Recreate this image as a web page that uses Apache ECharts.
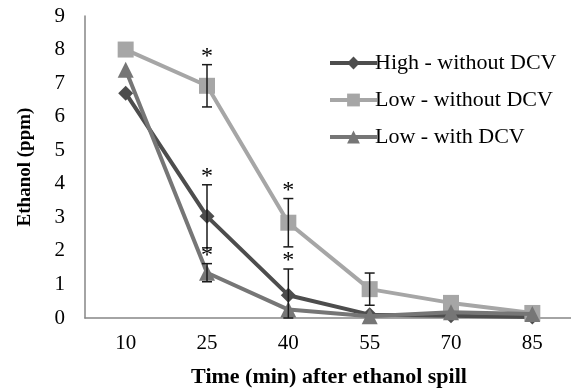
<!DOCTYPE html>
<html>
<head>
<meta charset="utf-8">
<script src="https://cdn.jsdelivr.net/npm/echarts@6/dist/echarts.min.js"></script>
<style>
  html, body { margin: 0; padding: 0; background: #fff; }
  #chart { width: 571px; height: 389px; }
</style>
</head>
<body>
<div id="chart"></div>
<script>
// time after spill (min)
const categories = ['10', '25', '40', '55', '70', '85']
const seriesNames = ['High - without DCV', 'Low - without DCV', 'Low - with DCV']

// ethanol (ppm)
const highNoDcv = [6.7, 3.03, 0.68, 0.1, 0.07, 0.03]
const lowNoDcv = [8.0, 6.92, 2.84, 0.86, 0.45, 0.15]
const lowDcv = [7.4, 1.35, 0.25, 0.05, 0.17, 0.12]

// error bar half widths
const highNoDcvErr = [0, 0.94, 0.78, 0, 0, 0]
const lowNoDcvErr = [0, 0.63, 0.72, 0.48, 0, 0]
const lowDcvErr = [0, 0.27, 0, 0, 0, 0]

// significance stars (1 = *)
const highNoDcvStar = [0, 1, 1, 0, 0, 0]
const lowNoDcvStar = [0, 1, 1, 0, 0, 0]
const lowDcvStar = [0, 1, 0, 0, 0, 0]

const yTicks = [0, 1, 2, 3, 4, 5, 6, 7, 8, 9]

const colors = ['#4d4d4d', '#a6a6a6', '#767676']
const symbols = ['diamond', 'rect', 'triangle']
const symbolSizes = [15, 16, 16]
const font = 'Liberation Serif, Times New Roman, serif'

const values = [highNoDcv, lowNoDcv, lowDcv]
const errs = [highNoDcvErr, lowNoDcvErr, lowDcvErr]
const stars = [highNoDcvStar, lowNoDcvStar, lowDcvStar]

let chartInstance = echarts.init(document.getElementById('chart'), null, { renderer: 'canvas' })

const lineSeries = values.map((data, i) => {
    return {
        name: seriesNames[i],
        type: 'line',
        data: data,
        symbol: symbols[i],
        symbolSize: symbolSizes[i],
        showAllSymbol: true,
        lineStyle: { color: colors[i], width: 4 },
        itemStyle: { color: colors[i] },
        z: 2 + i
    }
})

// error bars built from the arrays above
const errData = []
values.forEach((data, i) => {
    data.forEach((v, j) => {
        if (errs[i][j] > 0) {
            errData.push([j, Math.max(0, v - errs[i][j]), v + errs[i][j], stars[i][j]])
        }
    })
})

const errSeries = {
    type: 'custom',
    name: 'err',
    z: 10,
    data: errData,
    renderItem: (params, api) => {
        const x = api.value(0)
        const lo = api.coord([x, api.value(1)])
        const hi = api.coord([x, api.value(2)])
        const cap = 5
        const style = { stroke: '#1a1a1a', lineWidth: 1.5 }
        const children = [
            { type: 'line', shape: { x1: hi[0], y1: hi[1], x2: lo[0], y2: lo[1] }, style },
            { type: 'line', shape: { x1: hi[0] - cap, y1: hi[1], x2: hi[0] + cap, y2: hi[1] }, style },
            { type: 'line', shape: { x1: lo[0] - cap, y1: lo[1], x2: lo[0] + cap, y2: lo[1] }, style }
        ]
        if (api.value(3) === 1) {
            children.push({
                type: 'text',
                style: {
                    text: '*',
                    x: hi[0],
                    y: hi[1] + 4,
                    fontSize: 24,
                    fontFamily: font,
                    fill: '#000',
                    align: 'center',
                    verticalAlign: 'bottom'
                }
            })
        }
        return { type: 'group', children }
    }
}

const option = {
    animation: false,
    backgroundColor: '#fff',
    grid: { left: 85, right: -2, top: 16, bottom: 71, containLabel: false, outerBoundsMode: 'none' },
    legend: {
        data: seriesNames,
        orient: 'vertical',
        left: 323,
        top: 47,
        itemWidth: 47,
        itemHeight: 16,
        itemGap: 15,
        lineStyle: { width: 4 },
        textStyle: { fontFamily: font, fontSize: 22, color: '#000', padding: [0, 0, 0, -7] }
    },
    xAxis: {
        type: 'category',
        data: categories,
        boundaryGap: true,
        axisLine: { lineStyle: { color: '#868686', width: 1.5 } },
        axisTick: { show: false },
        axisLabel: { fontFamily: font, fontSize: 21, color: '#000', margin: 15 },
        name: 'Time (min) after ethanol spill',
        nameLocation: 'middle',
        nameGap: 48,
        nameTextStyle: { fontFamily: font, fontSize: 22, fontWeight: 'bold', color: '#000' }
    },
    yAxis: {
        type: 'value',
        min: yTicks[0],
        max: yTicks[yTicks.length - 1],
        interval: 1,
        splitLine: { show: false },
        axisLine: { show: true, lineStyle: { color: '#868686', width: 1.5 } },
        axisTick: { show: false },
        axisLabel: { fontFamily: font, fontSize: 21, color: '#000', margin: 20 },
        name: 'Ethanol (ppm)',
        nameLocation: 'middle',
        nameGap: 50,
        nameRotate: 90,
        nameTextStyle: { fontFamily: font, fontSize: 19, fontWeight: 'bold', color: '#000' }
    },
    series: [...lineSeries, errSeries]
}

chartInstance.setOption(option)
</script>
</body>
</html>
